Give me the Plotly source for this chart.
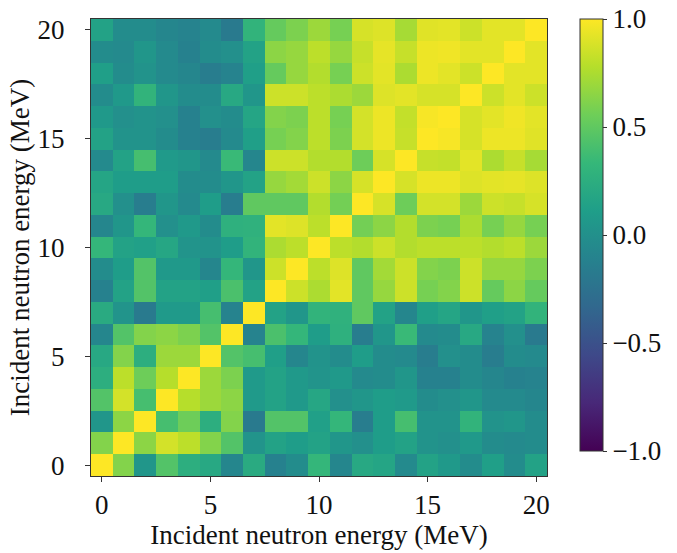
import plotly.graph_objects as go

energies = list(range(21))
tick_vals = [0, 5, 10, 15, 20]
cbar_ticks = [-1.0, -0.5, 0.0, 0.5, 1.0]
cbar_labels = ["\u22121.0", "\u22120.5", "0.0", "0.5", "1.0"]

row00 = [1.0, 0.62, 0.05, 0.45, 0.25, 0.2, -0.08, 0.22, -0.12, -0.03, 0.32, -0.08, 0.2, 0.17, -0.05, 0.15, 0.07, -0.03, 0.12, -0.03, 0.15]
row01 = [0.62, 1.0, 0.65, 0.87, 0.8, 0.62, 0.45, 0.03, 0.15, 0.1, 0.15, 0.05, 0.0, 0.1, 0.15, 0.02, 0.0, 0.07, -0.03, -0.05, -0.03]
row02 = [0.05, 0.65, 1.0, 0.4, 0.55, 0.25, 0.62, -0.18, 0.45, 0.45, 0.13, 0.32, -0.15, 0.1, 0.4, 0.02, 0.02, 0.3, 0.02, 0.05, -0.03]
row03 = [0.45, 0.87, 0.4, 1.0, 0.78, 0.7, 0.65, 0.08, 0.15, 0.07, 0.18, 0.0, 0.05, 0.1, 0.08, -0.03, 0.0, 0.05, -0.05, -0.05, -0.08]
row04 = [0.25, 0.8, 0.55, 0.78, 1.0, 0.7, 0.6, 0.08, 0.15, 0.07, 0.03, 0.07, -0.05, -0.03, 0.05, -0.12, -0.12, -0.03, -0.08, -0.12, -0.1]
row05 = [0.2, 0.62, 0.25, 0.7, 0.7, 1.0, 0.45, 0.4, 0.12, -0.08, 0.02, -0.03, 0.1, -0.03, -0.05, -0.15, 0.0, -0.03, -0.15, -0.03, -0.05]
row06 = [-0.08, 0.45, 0.62, 0.65, 0.6, 0.45, 1.0, -0.1, 0.42, 0.32, 0.1, 0.27, -0.15, 0.05, 0.35, -0.05, -0.03, 0.2, -0.1, 0.0, -0.18]
row07 = [0.22, 0.03, -0.18, 0.08, 0.08, 0.4, -0.1, 1.0, 0.15, 0.05, 0.3, 0.28, 0.5, 0.15, -0.08, 0.12, 0.17, 0.05, 0.12, 0.15, 0.3]
row08 = [-0.12, 0.15, 0.45, 0.15, 0.15, 0.12, 0.42, 0.15, 1.0, 0.85, 0.75, 0.92, 0.5, 0.68, 0.85, 0.58, 0.62, 0.85, 0.52, 0.65, 0.52]
row09 = [-0.03, 0.1, 0.45, 0.07, 0.07, -0.08, 0.32, 0.05, 0.85, 1.0, 0.8, 0.9, 0.5, 0.72, 0.85, 0.62, 0.6, 0.85, 0.68, 0.68, 0.6]
row10 = [0.32, 0.15, 0.13, 0.18, 0.03, 0.02, 0.1, 0.3, 0.75, 0.8, 1.0, 0.8, 0.77, 0.85, 0.77, 0.8, 0.8, 0.8, 0.77, 0.8, 0.7]
row11 = [-0.08, 0.05, 0.32, 0.0, 0.07, -0.03, 0.27, 0.28, 0.92, 0.9, 0.8, 1.0, 0.57, 0.65, 0.77, 0.6, 0.58, 0.75, 0.58, 0.68, 0.58]
row12 = [0.2, 0.0, -0.15, 0.05, -0.05, 0.1, -0.15, 0.5, 0.5, 0.5, 0.77, 0.57, 1.0, 0.88, 0.55, 0.87, 0.87, 0.7, 0.85, 0.83, 0.88]
row13 = [0.17, 0.1, 0.1, 0.1, -0.03, -0.03, 0.05, 0.15, 0.68, 0.72, 0.85, 0.65, 0.88, 1.0, 0.88, 0.95, 0.95, 0.9, 0.92, 0.93, 0.9]
row14 = [-0.05, 0.15, 0.4, 0.08, 0.05, -0.05, 0.35, -0.08, 0.85, 0.85, 0.77, 0.77, 0.55, 0.88, 1.0, 0.83, 0.82, 0.92, 0.75, 0.83, 0.73]
row15 = [0.15, 0.02, 0.02, -0.03, -0.12, -0.15, -0.05, 0.12, 0.58, 0.62, 0.8, 0.6, 0.87, 0.95, 0.83, 1.0, 0.98, 0.88, 0.95, 0.95, 0.91]
row16 = [0.07, 0.0, 0.02, 0.0, -0.12, 0.0, -0.03, 0.17, 0.62, 0.6, 0.8, 0.58, 0.87, 0.95, 0.82, 0.98, 1.0, 0.88, 0.92, 0.96, 0.92]
row17 = [-0.03, 0.07, 0.3, 0.05, -0.03, -0.03, 0.2, 0.05, 0.85, 0.85, 0.8, 0.75, 0.7, 0.9, 0.92, 0.88, 0.88, 1.0, 0.85, 0.92, 0.85]
row18 = [0.12, -0.03, 0.02, -0.05, -0.08, -0.15, -0.1, 0.12, 0.52, 0.68, 0.77, 0.58, 0.85, 0.92, 0.75, 0.95, 0.92, 0.85, 1.0, 0.92, 0.92]
row19 = [-0.03, -0.05, 0.05, -0.05, -0.12, -0.03, 0.0, 0.15, 0.65, 0.68, 0.8, 0.68, 0.83, 0.93, 0.83, 0.95, 0.96, 0.92, 0.92, 1.0, 0.92]
row20 = [0.15, -0.03, -0.03, -0.08, -0.1, -0.05, -0.18, 0.3, 0.52, 0.6, 0.7, 0.58, 0.88, 0.9, 0.73, 0.91, 0.92, 0.85, 0.92, 0.92, 1.0]

corr = [row00, row01, row02, row03, row04, row05, row06, row07, row08, row09,
        row10, row11, row12, row13, row14, row15, row16, row17, row18, row19, row20]

FONT = "Liberation Serif, Times New Roman, serif"
W, H = 677, 553


def px_x(x):
    return x / W


def px_y(y):
    return 1 - y / H


fig = go.Figure(go.Heatmap(
    x=energies, y=energies, z=corr,
    zmin=-1, zmax=1, colorscale="Viridis",
    colorbar=dict(
        x=px_x(580), xanchor="left", y=px_y(19), yanchor="top",
        len=432 / H, lenmode="fraction", thickness=23,
        xpad=0, ypad=0,
        outlinewidth=1, outlinecolor="#333",
        tickmode="array", tickvals=cbar_ticks, ticktext=cbar_labels,
        ticks="outside", ticklen=4, tickcolor="#333",
        ticklabeloverflow="allow",
        tickfont=dict(family=FONT, size=27, color="#111"),
    ),
))

axis_common = dict(
    ticks="outside", ticklen=5, tickcolor="#333",
    showline=True, linecolor="#333", linewidth=1, mirror=True,
    showgrid=False, zeroline=False, automargin=False,
    tickmode="array", tickvals=tick_vals,
    ticklabeloverflow="allow",
    tickfont=dict(family=FONT, size=27, color="#111"),
    range=[-0.5, 20.5],
)

fig.update_layout(
    width=W, height=H,
    margin=dict(l=0, r=0, t=0, b=0, autoexpand=False),
    paper_bgcolor="white", plot_bgcolor="white",
    font=dict(family=FONT, size=27, color="#111"),
    xaxis=dict(axis_common, domain=[px_x(91), px_x(547)],
               title=dict(text="Incident neutron energy (MeV)",
                          font=dict(family=FONT, size=27), standoff=0)),
    yaxis=dict(axis_common, domain=[px_y(476), px_y(19)],
               title=dict(text="Incident neutron energy (MeV)",
                          font=dict(family=FONT, size=27), standoff=0),
               ticklabelstandoff=15),
)

fig.write_html(
    "out.html",
    config={"displayModeBar": False},
    post_script="document.body.style.margin='0';document.body.style.overflow='hidden';",
)
